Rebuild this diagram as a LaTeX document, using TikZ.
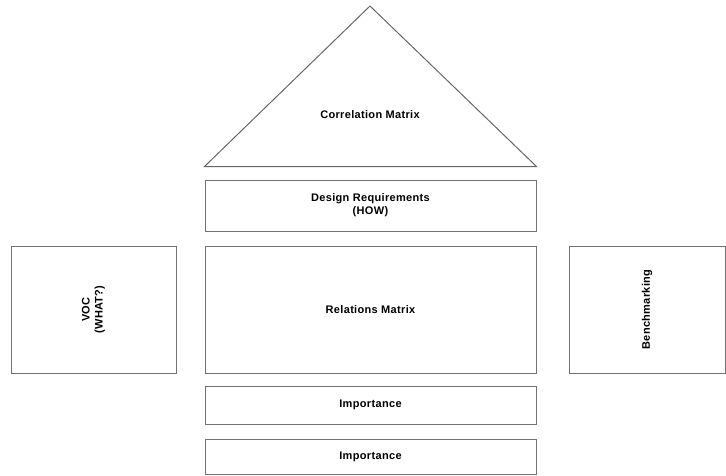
\documentclass[tikz,border=0pt]{standalone}
\usepackage{fontspec}
\setmainfont{Liberation Sans}
\usetikzlibrary{positioning}

\begin{document}
\begin{tikzpicture}[x=1pt, y=1pt, node distance=14pt,
	lbl/.style={align=center, font=\fontsize{11}{13}\selectfont\bfseries\addfontfeature{LetterSpace=3}},
	box/.style={lbl, draw=black!55, line width=1pt, rectangle, minimum width=331pt},
	sidebox/.style={box, minimum height=127pt}]
	\useasboundingbox (0,0) rectangle (726,-475);

	% Boxes {rel, design, imp1, imp2, voc, bench}
	\node [box, minimum height=127pt] 	(rel) 		at (370.5,-309.5) 	{Relations Matrix};
	\node [box, minimum height=51pt] 	(design) 	[above=14pt of rel] {Design Requirements\\(HOW)};
	\node [box, minimum height=38pt] 	(imp1) 		[below=12pt of rel] {Importance};
	\node [box, minimum height=35pt] 	(imp2) 		[below=14pt of imp1] {Importance};
	\node [sidebox, minimum width=165pt] (voc) 		[left=28pt of rel] 	{};
	\node [sidebox, minimum width=156pt] (bench) 	[right=32pt of rel] {};
	\node [lbl, rotate=90] 	(voclabel) 		at (voc) 	{VOC\\(WHAT?)};
	\node [lbl, rotate=90] 	(benchlabel) 	at (bench) 	{Benchmarking};

	% Roof
	\coordinate (apex) 	at (370,-6);
	\coordinate (bl) 	at ([yshift=13pt]design.north west);
	\coordinate (br) 	at ([yshift=13pt]design.north east);
	\draw [black!60, line width=1pt, line join=miter] (bl) -- (apex) -- (br) -- cycle;
	\node [lbl] 	(corr) 	at (370,-115) 	{Correlation Matrix};

\end{tikzpicture}
\end{document}
